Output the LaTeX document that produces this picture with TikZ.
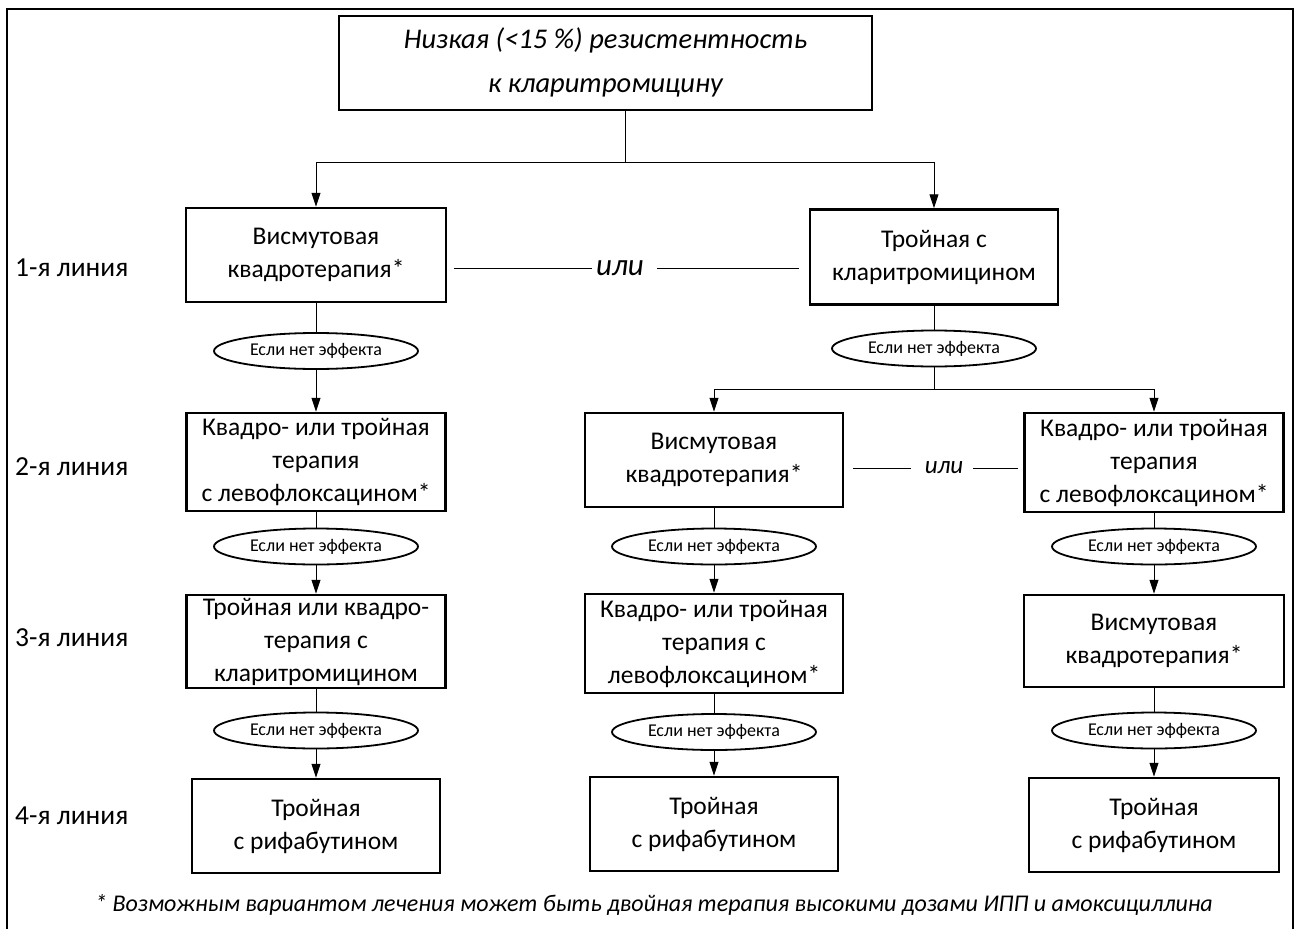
\documentclass[tikz,border=0pt]{standalone}
\usepackage{fontspec}
\setmainfont{Carlito}
\usetikzlibrary{shapes.geometric,arrows.meta}
\begin{document}
\begin{tikzpicture}[x=1pt,y=-1pt,
 box/.style={draw,line width=2.5pt,align=center,inner sep=0pt,font=\fontsize{25.5}{33}\selectfont},
 oval/.style={draw,ellipse,line width=1.8pt,minimum width=204pt,minimum height=36pt,inner sep=0pt,font=\fontsize{18}{20}\selectfont},
 conn/.style={line width=1pt},
 arr/.style={line width=1pt,-{Triangle[length=14pt,width=9pt]}},
 lbl/.style={anchor=west,font=\fontsize{27.5}{30}\selectfont,inner sep=0pt},
 ili/.style={font=\itshape\fontsize{25}{30}\selectfont,inner sep=0pt}]
\useasboundingbox (0,0) rectangle (1296,929);
\fill[white] (0,0) rectangle (1296,929);
% outer frame
\draw[line width=2.5pt] (7,940) -- (7,9) -- (1293,9) -- (1293,940);

% top
\node[box,minimum width=533pt,minimum height=94pt,font=\itshape\fontsize{28.5}{39}\selectfont] (top) at (605.5,63) {\raisebox{-4pt}{\begin{tabular}{@{}c@{}}Низкая (<15~\%) резистентность\\[5pt]к кларитромицину\end{tabular}}};

% line 1
\node[box,minimum width=260pt,minimum height=94pt] (L1) at (316,255) {Висмутовая\\квадротерапия*};
\node[box,minimum width=248pt,minimum height=95pt] (R1) at (934,257) {Тройная с\\кларитромицином};

% line 2
\node[box,minimum width=259pt,minimum height=98pt] (L2) at (316,462) {Квадро- или тройная\\терапия\\с левофлоксацином*};
\node[box,minimum width=258pt,minimum height=94pt] (M2) at (714,460) {Висмутовая\\квадротерапия*};
\node[box,minimum width=259pt,minimum height=99pt] (R2) at (1154,462.5) {Квадро- или тройная\\терапия\\с левофлоксацином*};

% line 3
\node[box,minimum width=259pt,minimum height=93pt] (L3) at (316,641.5) {Тройная или квадро-\\терапия с\\кларитромицином};
\node[box,minimum width=258pt,minimum height=99pt] (M3) at (714,643.5) {Квадро- или тройная\\терапия с\\левофлоксацином*};
\node[box,minimum width=260pt,minimum height=92pt] (R3) at (1154,641) {Висмутовая\\квадротерапия*};

% line 4
\node[box,minimum width=248pt,minimum height=94pt] (L4) at (316,826) {Тройная\\с рифабутином};
\node[box,minimum width=248pt,minimum height=94pt] (M4) at (714,824) {Тройная\\с рифабутином};
\node[box,minimum width=250pt,minimum height=94pt] (R4) at (1154,825) {Тройная\\с рифабутином};

% ellipses
\node[oval] (E1L) at (316,351) {Если нет эффекта};
\node[oval] (E1M) at (934,348.5) {Если нет эффекта};
\node[oval] (E2L) at (316,546.5) {Если нет эффекта};
\node[oval] (E2M) at (714,546.5) {Если нет эффекта};
\node[oval] (E2R) at (1154,546.5) {Если нет эффекта};
\node[oval] (E3L) at (316,730.5) {Если нет эффекта};
\node[oval] (E3M) at (714,732) {Если нет эффекта};
\node[oval] (E3R) at (1154,730.5) {Если нет эффекта};

% row labels
\node[lbl] (r1) at (15,268) {1-я линия};
\node[lbl] (r2) at (15,467) {2-я линия};
\node[lbl] (r3) at (15,638) {3-я линия};
\node[lbl] (r4) at (15,816) {4-я линия};

% or labels
\node[ili,font=\itshape\fontsize{31}{34}\selectfont] (or1) at (620,268) {или};
\node[ili] (or2) at (944,468) {или};
\draw[conn] ([xshift=7pt]L1.east |- or1) -- ([xshift=-4pt]or1.west);
\draw[conn] ([xshift=13pt]or1.east) -- ([xshift=-10pt]R1.west |- or1);
\draw[conn] ([xshift=9pt]M2.east |- or2) -- ([xshift=-14pt]or2.west);
\draw[conn] ([xshift=10pt]or2.east) -- ([xshift=-5pt]R2.west |- or2);

% footnote
\node[font=\itshape\fontsize{24}{28}\selectfont,inner sep=0pt] (fn) at (654,905) {* Возможным вариантом лечения может быть двойная терапия высокими дозами ИПП и амоксициллина};

% connectors
\coordinate (j1) at (625,162);
\coordinate (j2) at (934,389);
\draw[conn] (top.south -| j1) -- (j1);
\draw[arr] (j1) -| (L1.north);
\draw[arr] (j1) -| (R1.north);

\draw[conn] (L1.south) -- (E1L.north);
\draw[arr] (E1L.south) -- (L2.north);
\draw[conn] (L2.south) -- (E2L.north);
\draw[arr] (E2L.south) -- (L3.north);
\draw[conn] (L3.south) -- (E3L.north);
\draw[arr] (E3L.south) -- (L4.north);

\draw[conn] (R1.south) -- (E1M.north);
\draw[conn] (E1M.south) -- (j2);
\draw[arr] (j2) -| (M2.north);
\draw[arr] (j2) -| (R2.north);

\draw[conn] (M2.south) -- (E2M.north);
\draw[arr] (E2M.south) -- (M3.north);
\draw[conn] (M3.south) -- (E3M.north);
\draw[arr] (E3M.south) -- (M4.north);

\draw[conn] (R2.south) -- (E2R.north);
\draw[arr] (E2R.south) -- (R3.north);
\draw[conn] (R3.south) -- (E3R.north);
\draw[arr] (E3R.south) -- (R4.north);
\end{tikzpicture}
\end{document}
